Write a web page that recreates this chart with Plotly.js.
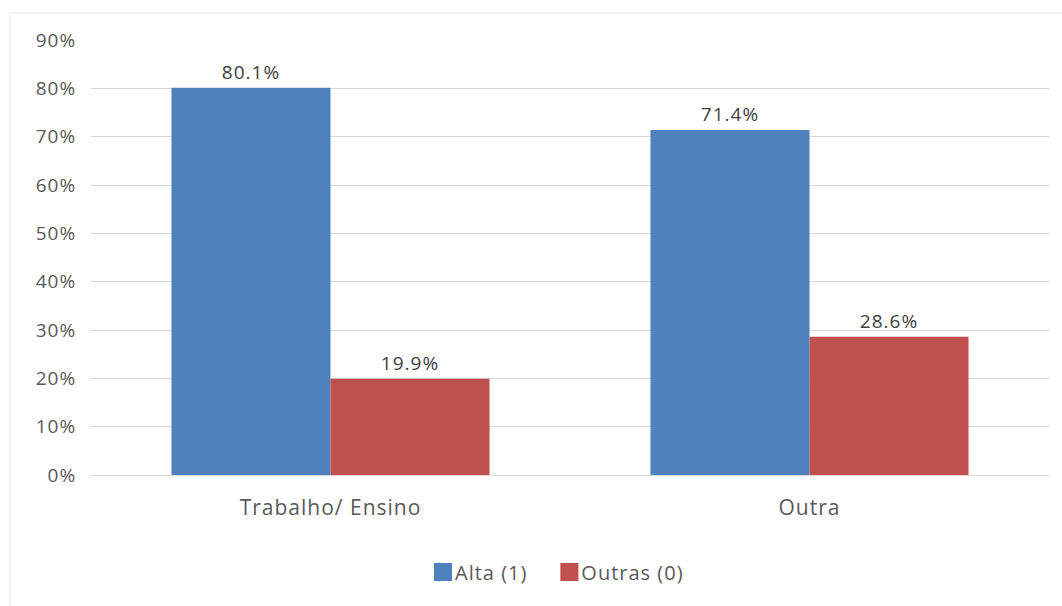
<!DOCTYPE html>
<html><head><meta charset="utf-8">
<script src="https://cdn.plot.ly/plotly-3.0.1.min.js"></script>
<style>html,body{margin:0;padding:0;background:#fff}#chart{width:1062px;height:606px}
text{letter-spacing:1px}</style>
</head><body><div id="chart"></div>
<script>
const categories = ["Trabalho/ Ensino", "Outra"];
const seriesNames = ["Alta (1)", "Outras (0)"];
const alta = [80.1, 71.4];
const outras = [19.9, 28.6];
const yTicks = [0, 10, 20, 30, 40, 50, 60, 70, 80, 90];
const yTickLabels = yTicks.map(v => v + "%");

const font = "'Open Sans', 'Noto Sans', sans-serif";
function mk(name, vals, color) {
  return {
    type: "bar", name: name, x: categories, y: vals,
    marker: {color: color},
    text: vals.map(v => v.toFixed(1) + "%"),
    textposition: "outside", cliponaxis: false,
    textfont: {family: font, size: 19, color: "#404040"},
    hoverinfo: "none"
  };
}
const data = [mk(seriesNames[0], alta, "#4f81bd"), mk(seriesNames[1], outras, "#c0504d")];
const layout = {
  width: 1062, height: 606,
  margin: {l: 91, r: 13, t: 40, b: 131},
  paper_bgcolor: "#fff", plot_bgcolor: "#fff",
  barmode: "group", bargap: 0.336, bargroupgap: 0,
  font: {family: font, color: "#595959"},
  xaxis: {
    showgrid: false, showline: false, zeroline: false,
    tickfont: {family: font, size: 21, color: "#595959"},
    ticks: "outside", ticklen: 14, tickcolor: "rgba(0,0,0,0)"
  },
  yaxis: {
    range: [0, 90], tickvals: yTicks, ticktext: yTickLabels,
    showgrid: true, gridcolor: "#d9d9d9", gridwidth: 1,
    zeroline: true, zerolinecolor: "#d9d9d9", zerolinewidth: 1,
    showline: false, fixedrange: true,
    tickfont: {family: font, size: 19, color: "#595959"},
    ticks: "outside", ticklen: 10, tickcolor: "rgba(0,0,0,0)"
  },
  showlegend: true,
  legend: {
    orientation: "h", x: 0.4859, xanchor: "center", y: -0.223, yanchor: "middle",
    font: {family: font, size: 20, color: "#595959"},
    itemwidth: 30, traceorder: "normal"
  },
  shapes: [{
    type: "rect", xref: "paper", yref: "paper",
    x0: (10 - 91) / 958, x1: (1070 - 91) / 958,
    y0: (475 - 615) / 435, y1: (475 - 13) / 435,
    line: {color: "#e6e6e6", width: 1}, fillcolor: "rgba(0,0,0,0)", layer: "below"
  }]
};
Plotly.newPlot("chart", data, layout, {displayModeBar: false, staticPlot: true}).then(gd => {
  gd.querySelectorAll(".legendpoints path").forEach(p => {
    p.setAttribute("d", "M9,9H-9V-9H9Z");
    p.setAttribute("transform", "translate(28,0)");
  });
  const items = gd.querySelectorAll(".legend g.traces");
  if (items.length) {
    const t = items[0].getAttribute("transform") || "";
    const m = t.match(/translate\(([-\d.]+)[ ,]+([-\d.]+)\)/);
    if (m) items[0].setAttribute("transform", "translate(" + (parseFloat(m[1]) - 9) + "," + m[2] + ")");
  }
});
</script></body></html>
